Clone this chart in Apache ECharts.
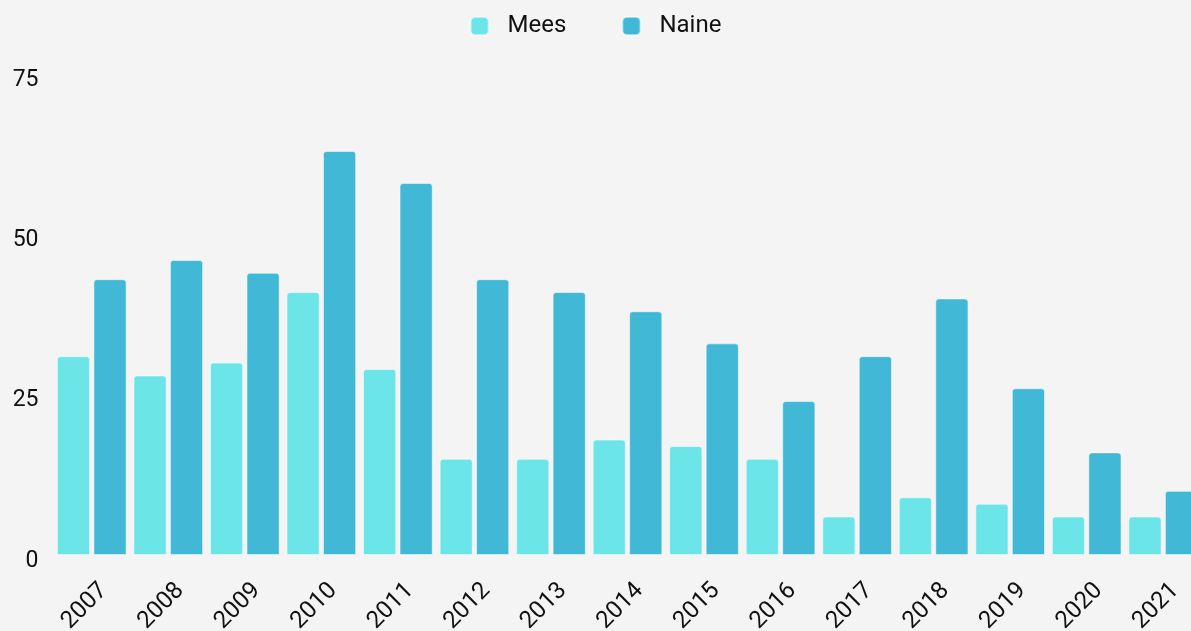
<!DOCTYPE html>
<html>
<head>
<meta charset="utf-8">
<script src="https://cdn.jsdelivr.net/npm/echarts@6/dist/echarts.min.js"></script>
<style>
html, body { margin: 0; padding: 0; background: #f4f4f4; }
#chart { width: 1191px; height: 631px; }
</style>
</head>
<body>
<div id="chart"></div>
<script>
var years = ['2007', '2008', '2009', '2010', '2011', '2012', '2013', '2014', '2015', '2016', '2017', '2018', '2019', '2020', '2021'];
var mees = [31, 28, 30, 41, 29, 15, 15, 18, 17, 15, 6, 9, 8, 6, 6];
var naine = [43, 46, 44, 63, 58, 43, 41, 38, 33, 24, 31, 40, 26, 16, 10];
var yTicks = [0, 25, 50, 75];

var font = 'Roboto';
var chart = echarts.init(document.getElementById('chart'));

var option = {
  backgroundColor: '#f4f4f4',
  textStyle: { fontFamily: font },
  legend: {
    top: 9,
    left: 'center',
    itemWidth: 18,
    itemHeight: 18,
    itemGap: 55,
    icon: 'roundRect',
    textStyle: { fontSize: 24, color: '#111', padding: [0, 0, 0, 14] },
    data: ['Mees', 'Naine']
  },
  // labels run past the bottom edge in the original, so don't let the grid shrink
  grid: { left: 53.5, top: 74, width: 1148, height: 481, containLabel: false, outerBoundsMode: 'none' },
  xAxis: {
    type: 'category',
    data: years,
    axisLine: { show: false },
    axisTick: { show: false },
    axisLabel: {
      rotate: 45, fontSize: 24, color: '#111', margin: 20, interval: 0,
      verticalAlign: 'top', padding: [5, 0, 0, 0]
    }
  },
  yAxis: {
    type: 'value',
    min: yTicks[0],
    max: yTicks[yTicks.length - 1],
    interval: 25,
    splitLine: { show: false },
    axisLabel: {
      color: '#111', margin: 15,
      formatter: '{v|{value}}',
      // nudge the numbers a few px below their tick, like the original
      rich: { v: { fontSize: 23, color: '#111', fontFamily: font, padding: [12, 0, 0, 0] } }
    }
  },
  series: [
    {
      name: 'Mees',
      type: 'bar',
      data: mees,
      barGap: '10%',
      barCategoryGap: '9%',
      itemStyle: { color: '#6ce5e8', borderRadius: [3, 3, 0, 0], borderColor: 'rgba(255,255,255,0.5)', borderWidth: 1 }
    },
    {
      name: 'Naine',
      type: 'bar',
      data: naine,
      barGap: '10%',
      barCategoryGap: '9%',
      itemStyle: { color: '#41b8d5', borderRadius: [3, 3, 0, 0], borderColor: 'rgba(255,255,255,0.5)', borderWidth: 1 }
    }
  ]
};
chart.setOption(option);
</script>
</body>
</html>
